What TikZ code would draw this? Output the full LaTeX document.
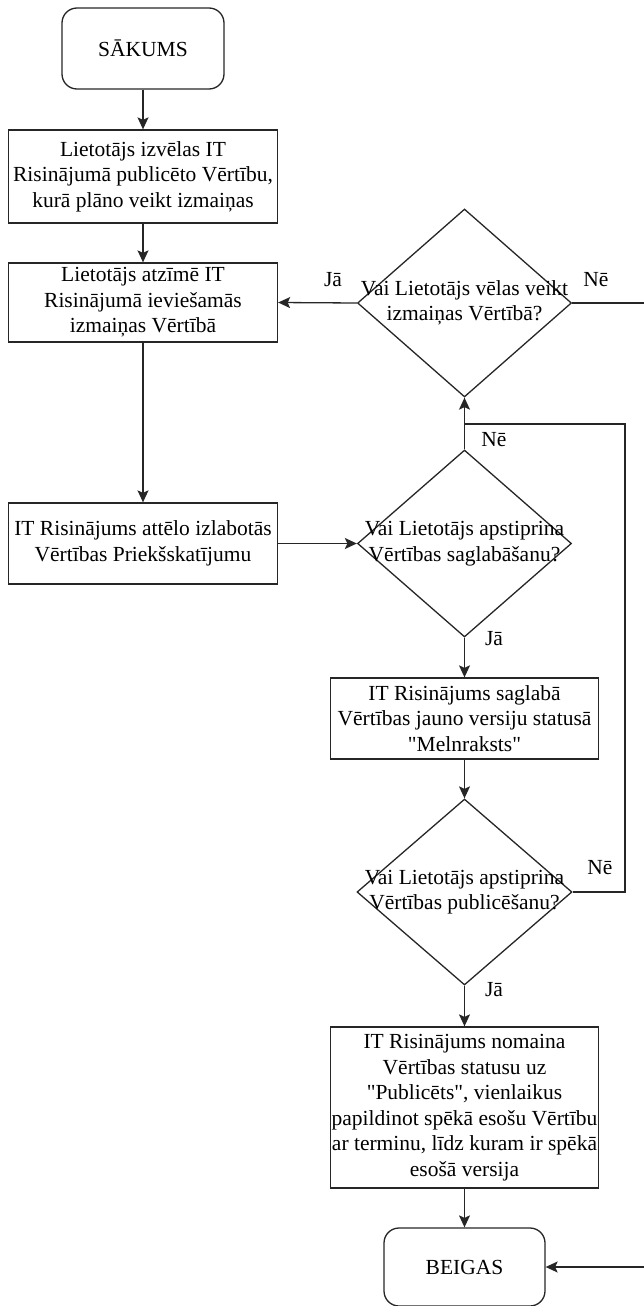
\documentclass[tikz,border=0pt]{standalone}
\usepackage{fontspec}
\setmainfont{Liberation Serif}[Ligatures=TeXOff]
\usetikzlibrary{arrows.meta,shapes.geometric}
\begin{document}
\begin{tikzpicture}[x=1pt,y=-1pt,
  every node/.style={font=\fontsize{21.5}{25.5}\selectfont, inner sep=0pt, align=center},
  line/.style={line width=1.3pt, draw=black!85},
  arr/.style={line width=1.3pt, draw=black!85, -{Stealth[length=12pt,width=11pt,inset=2.5pt]}},
  term/.style={draw=black!85, line width=1.3pt, rounded corners=15pt},
  proc/.style={draw=black!85, line width=1.3pt},
  dec/.style={diamond, draw=black!85, line width=1.3pt, inner sep=0pt},
  lab/.style={font=\fontsize{21.5}{25.5}\selectfont}
]
\useasboundingbox (0,0) rectangle (644,1306);
\clip (0,0) rectangle (644,1306);
\node[term, minimum width=162pt, minimum height=81pt] (start) at (143,48.5) {SĀKUMS};
\node[proc, minimum width=269pt, minimum height=93pt] (b1) at (143,176.5) {Lietotājs izvēlas IT\\Risinājumā publicēto Vērtību,\\kurā plāno veikt izmaiņas};
\node[proc, minimum width=269pt, minimum height=79pt] (b2) at (143,302.5) {Lietotājs atzīmē IT\\Risinājumā ieviešamās\\izmaiņas Vērtībā};
\node[dec, minimum width=214pt, minimum height=188pt, label={[align=center]center:Vai Lietotājs vēlas veikt\\izmaiņas Vērtībā?}] (d1) at (464.5,303) {};
\node[proc, minimum width=269pt, minimum height=81pt] (b3) at (143,543.5) {IT Risinājums attēlo izlabotās\\Vērtības Priekšskatījumu};
\node[dec, minimum width=214pt, minimum height=187pt, label={[align=center]center:Vai Lietotājs apstiprina\\Vērtības saglabāšanu?}] (d2) at (464.5,543.5) {};
\node[proc, minimum width=268pt, minimum height=81pt] (b4) at (464.5,718.5) {IT Risinājums saglabā\\Vērtības jauno versiju statusā\\"Melnraksts"};
\node[dec, minimum width=215pt, minimum height=186pt, label={[align=center]center:Vai Lietotājs apstiprina\\Vērtības publicēšanu?}] (d3) at (464.5,892) {};
\node[proc, minimum width=268pt, minimum height=161pt] (b5) at (464.5,1107.5) {IT Risinājums nomaina\\Vērtības statusu uz\\"Publicēts", vienlaikus\\papildinot spēkā esošu Vērtību\\ar terminu, līdz kuram ir spēkā\\esošā versija};
\node[term, minimum width=161pt, minimum height=78pt] (end) at (464.5,1267) {BEIGAS};

\coordinate (far) at (670,303);
\coordinate (loop) at (625,424);

\draw[arr] (start) -- (b1);
\draw[arr] (b1) -- (b2);
\draw[arr] (d1.west) -- (b2.east);
\draw[arr] (b2) -- (b3);
\draw[arr] (b3.east) -- (d2.west);
\draw[arr] (d2.south) -- (b4.north);
\draw[arr] (b4.south) -- (d3.north);
\draw[arr] (d3.south) -- (b5.north);
\draw[arr] (b5.south) -- (end.north);
\draw[line] (d2.north) -- (d2.north |- loop);
\draw[arr] (d3.east) -| (loop) -| (d1.south);
\draw[arr] (d1.east) -- (far) |- (end.east);

\node[lab] (l1) at (333,280) {Jā};
\node[lab] (l2) at (596,280) {Nē};
\node[lab] (l3) at (494,440) {Nē};
\node[lab] (l4) at (494,639) {Jā};
\node[lab] (l5) at (600,868) {Nē};
\node[lab] (l6) at (494,990) {Jā};
\end{tikzpicture}
\end{document}
